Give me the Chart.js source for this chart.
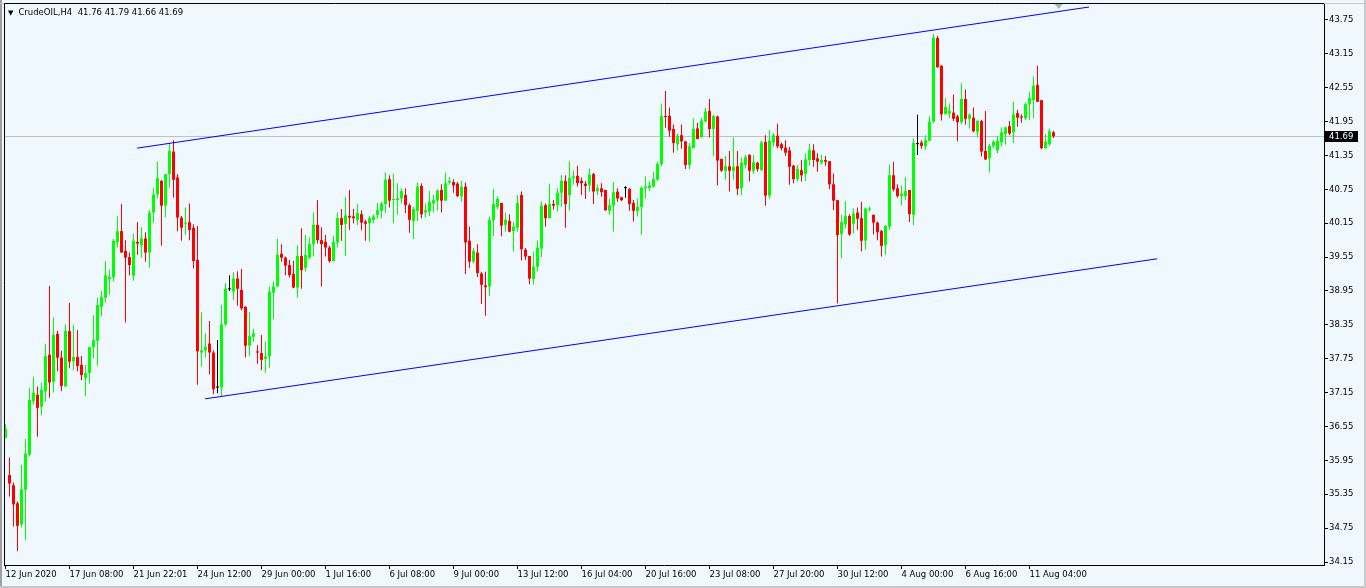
<!DOCTYPE html>
<html>
<head>
<meta charset="utf-8">
<script src="https://cdn.jsdelivr.net/npm/chart.js@4.4.1/dist/chart.umd.min.js"></script>
<style>
  html, body { margin: 0; padding: 0; background: #F0F8FF; overflow: hidden; }
  #wrap { position: relative; width: 1366px; height: 588px; }
  #hdr { position: absolute; left: 8px; top: 7px; font: 8.5px 'DejaVu Sans'; color: #000; white-space: pre; line-height: 10px; }
  #hdr .tri { font-size: 7px; margin-right: 5px; }
</style>
</head>
<body>
<div id="wrap">
  <canvas id="c" width="1366" height="588"></canvas>
  <div id="hdr"><span class="tri">▼</span>CrudeOIL,H4  41.76 41.79 41.66 41.69</div>
</div>
<script>
// H4 candles, CrudeOIL, 12 Jun - 11 Aug 2020
const open = [
  36.35, 35.69, 35.51, 35.19, 34.82, 35.43, 36.05, 37.00, 37.11, 36.90,
  37.17, 37.82, 37.34, 38.19, 37.77, 37.26, 38.24, 37.71, 37.78, 37.64,
  37.41, 37.50, 37.96, 38.07, 38.67, 38.83, 39.16, 39.19, 39.81, 40.01,
  39.66, 39.55, 39.22, 39.82, 39.76, 39.88, 39.63, 40.34, 40.66, 40.90,
  40.46, 41.02, 41.42, 40.96, 40.25, 40.14, 40.17, 40.07, 39.50, 37.86,
  37.90, 38.02, 37.86, 37.24, 37.24, 38.36, 38.98, 38.94, 39.17, 38.97,
  38.67, 37.98, 38.14, 37.88, 37.85, 37.75, 37.79, 38.92, 39.03, 39.61,
  39.54, 39.41, 39.25, 39.01, 39.57, 39.36, 39.54, 39.78, 40.12, 39.85,
  39.82, 39.72, 39.48, 39.81, 40.24, 40.14, 40.28, 40.27, 40.21, 40.31,
  40.18, 40.15, 40.21, 40.30, 40.37, 40.49, 40.93, 40.56, 40.56, 40.59,
  40.65, 40.47, 40.19, 40.37, 40.81, 40.34, 40.36, 40.50, 40.55, 40.74,
  40.55, 40.87, 40.88, 40.85, 40.63, 40.80, 39.84, 39.47, 39.63, 39.26,
  39.05, 39.03, 40.20, 40.44, 40.51, 40.12, 40.19, 40.01, 40.07, 40.65,
  39.68, 39.57, 39.16, 39.38, 39.70, 40.47, 40.24, 40.49, 40.47, 40.69,
  40.90, 40.65, 40.95, 40.99, 40.90, 40.85, 40.83, 41.02, 40.72, 40.77,
  40.74, 40.37, 40.46, 40.71, 40.61, 40.77, 40.76, 40.51, 40.37, 40.44,
  40.77, 40.77, 40.80, 40.92, 41.20, 42.05, 42.05, 41.82, 41.55, 41.71,
  41.60, 41.18, 41.48, 41.83, 41.67, 41.95, 42.14, 41.82, 42.04, 41.29,
  41.08, 41.16, 41.08, 41.16, 40.77, 41.18, 41.36, 41.08, 41.22, 41.09,
  41.59, 40.64, 41.58, 41.70, 41.55, 41.49, 41.44, 41.17, 40.93, 41.09,
  41.02, 41.27, 41.44, 41.30, 41.22, 41.27, 41.25, 40.84, 40.56, 39.96,
  40.13, 40.28, 40.14, 40.34, 40.24, 39.84, 40.39, 40.30, 40.16, 40.01,
  39.76, 40.09, 41.00, 40.77, 40.63, 40.63, 40.74, 40.30, 41.55, 41.58,
  41.51, 41.61, 41.95, 43.43, 42.94, 42.08, 42.09, 42.11, 42.04, 41.94,
  42.35, 42.00, 42.02, 41.77, 41.96, 41.43, 41.30, 41.52, 41.44, 41.58,
  41.73, 41.87, 41.76, 42.10, 42.04, 42.01, 42.26, 42.33, 42.60, 42.33,
  41.48, 41.55, 41.76
];
const high = [
  36.59, 36.00, 35.56, 35.22, 35.87, 36.33, 37.23, 37.43, 37.26, 37.33,
  38.01, 39.04, 38.48, 38.24, 37.89, 38.36, 38.74, 38.35, 38.26, 37.80,
  37.64, 37.96, 38.52, 38.83, 38.95, 39.48, 39.33, 39.87, 40.28, 40.49,
  39.85, 39.63, 39.97, 40.17, 40.08, 39.99, 40.38, 40.78, 41.24, 40.92,
  41.02, 41.57, 41.62, 41.02, 40.28, 40.43, 40.50, 40.13, 40.10, 38.58,
  38.20, 38.42, 37.90, 38.08, 38.70, 39.09, 39.23, 39.28, 39.30, 39.34,
  38.68, 38.58, 38.28, 37.99, 38.17, 38.06, 39.03, 39.12, 39.87, 39.78,
  39.56, 39.50, 39.48, 39.76, 40.06, 39.94, 39.90, 40.34, 40.56, 40.08,
  39.94, 39.75, 39.93, 40.34, 40.40, 40.62, 40.74, 40.40, 40.49, 40.38,
  40.21, 40.28, 40.31, 40.51, 40.53, 41.05, 41.00, 41.03, 40.86, 40.77,
  40.77, 40.50, 40.44, 40.87, 40.86, 40.50, 40.72, 40.65, 40.75, 40.84,
  41.05, 40.97, 40.93, 40.88, 40.90, 40.87, 40.09, 39.71, 39.78, 39.29,
  39.29, 40.27, 40.76, 40.63, 40.51, 40.34, 40.31, 40.18, 40.65, 40.71,
  39.71, 39.57, 39.65, 39.85, 40.54, 40.50, 40.85, 40.56, 40.77, 41.00,
  41.00, 41.25, 41.09, 41.17, 40.96, 40.90, 41.12, 41.04, 40.83, 40.86,
  40.74, 40.59, 40.88, 40.77, 40.62, 40.81, 40.77, 40.56, 40.59, 40.80,
  40.98, 40.89, 41.06, 41.24, 42.27, 42.49, 42.20, 41.90, 41.74, 41.90,
  41.60, 41.57, 42.01, 41.93, 42.02, 42.19, 42.35, 42.07, 42.06, 41.29,
  41.34, 41.43, 41.67, 41.43, 41.31, 41.36, 41.37, 41.36, 41.24, 41.61,
  41.71, 41.80, 41.75, 41.91, 41.58, 41.62, 41.50, 41.18, 41.18, 41.27,
  41.39, 41.56, 41.55, 41.39, 41.36, 41.34, 41.25, 41.03, 40.56, 40.30,
  40.54, 40.31, 40.41, 40.43, 40.53, 40.43, 40.45, 40.30, 40.18, 40.03,
  40.12, 41.19, 41.24, 40.84, 40.82, 40.97, 40.74, 41.65, 42.07, 41.62,
  41.71, 42.04, 43.50, 43.47, 42.95, 42.37, 42.27, 42.43, 42.07, 42.63,
  42.52, 42.10, 42.20, 41.98, 41.98, 42.14, 41.56, 41.62, 41.70, 41.85,
  41.86, 41.96, 42.30, 42.16, 42.08, 42.29, 42.48, 42.75, 42.94, 42.33,
  41.73, 41.83, 41.79
];
const low = [
  36.34, 35.31, 34.78, 34.34, 34.76, 34.54, 36.02, 36.94, 36.37, 36.75,
  36.99, 37.06, 37.15, 37.53, 37.18, 37.26, 37.58, 37.55, 37.53, 37.37,
  37.09, 37.31, 37.76, 37.63, 38.50, 38.74, 38.89, 39.12, 39.72, 39.63,
  38.39, 39.23, 39.13, 39.59, 39.54, 39.47, 39.36, 40.16, 40.59, 39.75,
  40.25, 40.78, 40.60, 40.01, 39.84, 39.94, 39.85, 39.35, 37.29, 37.61,
  37.77, 37.47, 37.12, 37.14, 37.08, 38.32, 38.95, 38.79, 38.69, 38.61,
  37.77, 37.80, 38.05, 37.66, 37.55, 37.50, 37.59, 38.45, 39.03, 39.47,
  39.23, 39.19, 39.00, 38.83, 38.99, 39.29, 39.51, 39.56, 39.79, 39.03,
  39.56, 39.45, 39.48, 39.72, 39.84, 39.57, 40.03, 40.15, 40.12, 40.03,
  39.84, 39.82, 40.15, 40.23, 40.24, 40.33, 40.43, 40.15, 40.30, 40.50,
  40.33, 39.98, 39.87, 40.19, 40.24, 40.25, 40.28, 40.34, 40.37, 40.34,
  40.55, 40.83, 40.69, 40.61, 40.53, 39.25, 39.36, 39.44, 39.20, 38.72,
  38.51, 38.86, 39.92, 40.40, 39.92, 40.00, 39.99, 39.65, 40.00, 39.49,
  39.50, 39.07, 39.06, 39.30, 39.55, 40.09, 40.24, 40.39, 40.36, 40.44,
  40.07, 40.37, 40.83, 40.80, 40.65, 40.58, 40.71, 40.49, 40.65, 40.62,
  40.37, 40.30, 40.00, 40.53, 40.54, 40.60, 40.37, 40.18, 40.27, 39.94,
  40.59, 40.72, 40.78, 40.90, 41.16, 41.84, 41.68, 41.40, 41.44, 41.47,
  41.11, 41.11, 41.48, 41.64, 41.67, 41.94, 41.67, 41.34, 40.82, 41.06,
  40.92, 40.71, 40.92, 40.65, 40.65, 41.12, 40.89, 41.02, 41.06, 41.08,
  40.46, 40.59, 41.51, 41.48, 41.44, 41.34, 40.83, 40.86, 40.89, 40.89,
  40.90, 41.17, 41.15, 41.06, 41.19, 41.17, 40.75, 40.38, 38.73, 39.53,
  40.06, 39.93, 39.97, 40.03, 39.65, 39.68, 40.36, 39.95, 39.85, 39.56,
  39.59, 40.03, 40.71, 40.60, 40.47, 40.56, 40.17, 40.12, 41.36, 41.47,
  41.45, 41.60, 41.92, 42.91, 41.97, 42.08, 42.01, 41.96, 41.60, 41.90,
  41.90, 41.83, 41.76, 41.67, 41.33, 41.27, 41.05, 41.48, 41.39, 41.51,
  41.54, 41.71, 41.57, 41.86, 41.93, 41.98, 41.98, 42.01, 42.30, 41.46,
  41.47, 41.52, 41.66
];
const close = [
  36.51, 35.54, 35.17, 34.79, 35.44, 36.07, 37.02, 37.15, 36.88, 37.20,
  37.80, 37.33, 38.17, 37.77, 37.27, 38.24, 37.70, 37.78, 37.62, 37.46,
  37.50, 37.96, 38.08, 38.70, 38.84, 39.23, 39.20, 39.84, 40.01, 39.63,
  39.54, 39.41, 39.84, 39.79, 39.88, 39.63, 40.34, 40.66, 40.95, 40.46,
  41.02, 41.43, 40.92, 40.25, 40.07, 40.16, 40.03, 39.48, 37.88, 37.90,
  37.96, 37.86, 37.21, 37.24, 38.36, 38.99, 38.98, 39.17, 38.99, 38.64,
  37.98, 38.15, 38.20, 37.86, 37.73, 37.79, 38.94, 39.03, 39.59, 39.54,
  39.40, 39.23, 39.01, 39.57, 39.32, 39.59, 39.78, 40.12, 39.85, 39.78,
  39.72, 39.48, 39.82, 40.24, 40.12, 40.29, 40.25, 40.24, 40.33, 40.16,
  40.14, 40.24, 40.27, 40.38, 40.50, 40.92, 40.55, 40.58, 40.59, 40.72,
  40.47, 40.21, 40.40, 40.80, 40.31, 40.38, 40.53, 40.56, 40.73, 40.55,
  40.86, 40.90, 40.82, 40.63, 40.80, 39.81, 39.47, 39.66, 39.27, 39.06,
  39.02, 40.21, 40.49, 40.58, 40.11, 40.21, 40.00, 40.09, 40.51, 39.69,
  39.56, 39.17, 39.38, 39.72, 40.46, 40.24, 40.49, 40.46, 40.69, 40.90,
  40.49, 40.95, 40.98, 40.86, 40.86, 40.81, 41.01, 40.71, 40.77, 40.70,
  40.38, 40.47, 40.70, 40.59, 40.56, 40.77, 40.49, 40.37, 40.44, 40.78,
  40.80, 40.82, 40.93, 41.20, 42.05, 42.03, 41.79, 41.57, 41.70, 41.60,
  41.18, 41.51, 41.82, 41.64, 41.97, 42.13, 41.82, 42.05, 41.26, 41.08,
  41.16, 41.08, 41.15, 40.76, 41.22, 41.32, 41.08, 41.23, 41.11, 41.58,
  40.64, 41.61, 41.71, 41.51, 41.48, 41.40, 41.15, 40.93, 41.11, 41.00,
  41.28, 41.45, 41.27, 41.24, 41.27, 41.24, 40.84, 40.55, 39.94, 40.17,
  40.28, 39.95, 40.32, 40.23, 39.84, 40.41, 40.41, 40.16, 39.99, 39.75,
  40.10, 41.00, 40.75, 40.63, 40.67, 40.72, 40.31, 41.57, 41.55, 41.52,
  41.62, 41.95, 43.44, 42.91, 42.08, 42.21, 42.14, 42.00, 41.94, 42.35,
  42.00, 42.07, 41.78, 41.96, 41.42, 41.28, 41.52, 41.59, 41.61, 41.76,
  41.85, 41.74, 42.08, 42.02, 42.02, 42.26, 42.37, 42.58, 42.30, 41.48,
  41.60, 41.78, 41.69
];

// time labels, one every 16 bars
const timeLabels = [
  '12 Jun 2020', '17 Jun 08:00', '21 Jun 22:01', '24 Jun 12:00', '29 Jun 00:00',
  '1 Jul 16:00', '6 Jul 08:00', '9 Jul 00:00', '13 Jul 12:00', '16 Jul 04:00',
  '20 Jul 16:00', '23 Jul 08:00', '27 Jul 20:00', '30 Jul 12:00', '4 Aug 00:00',
  '6 Aug 16:00', '11 Aug 04:00'
];
const labelStep = 16;
const priceTicks = [34.15, 34.75, 35.35, 35.95, 36.55, 37.15, 37.75, 38.35, 38.95,
  39.55, 40.15, 40.75, 41.35, 41.95, 42.55, 43.15, 43.75];

// channel lines: [bar index, price]
const channelTop = [[32.9, 41.48], [270.9, 43.98]];
const channelBottom = [[49.9, 37.04], [287.9, 39.52]];

const UP = '#00FF00', DOWN = '#FF0000', DOJI = '#000000';
const BG = '#F0F8FF';
const FONT = { family: 'DejaVu Sans', size: 8.5 };

const idx = open.map((_, i) => i);
const colors = idx.map(i => close[i] > open[i] ? UP : (close[i] < open[i] ? DOWN : DOJI));
const lastClose = close[close.length - 1];

const mt4Frame = {
  id: 'mt4Frame',
  beforeDraw(chart) {
    const { ctx, width, height } = chart;
    ctx.save();
    ctx.fillStyle = BG;
    ctx.fillRect(0, 0, width, height);
    ctx.fillStyle = '#A0A0A0';
    ctx.fillRect(0, 0, 2, height);
    ctx.fillStyle = '#C8C8C8';
    ctx.fillRect(0, 3, width, 1);
    ctx.fillRect(width - 2, 0, 2, height);
    ctx.fillRect(0, height - 2, width, 2);
    ctx.restore();
  },
  beforeDatasetsDraw(chart) {
    const { ctx, chartArea } = chart;
    const y = Math.round(chart.scales.y.getPixelForValue(lastClose)) + 0.5;
    ctx.save();
    ctx.strokeStyle = '#C0C0C0';
    ctx.lineWidth = 1;
    ctx.beginPath();
    ctx.moveTo(chartArea.left, y);
    ctx.lineTo(chartArea.right, y);
    ctx.stroke();
    ctx.restore();
  },
  afterDraw(chart) {
    const { ctx, chartArea } = chart;
    ctx.save();
    ctx.strokeStyle = '#000';
    ctx.lineWidth = 1;
    ctx.beginPath();
    ctx.moveTo(chartArea.left + 0.5, chartArea.bottom);
    ctx.lineTo(chartArea.left + 0.5, chartArea.top - 0.5);
    ctx.lineTo(chartArea.right, chartArea.top - 0.5);
    ctx.stroke();

    // shift marker
    const sx = chart.scales.x.getPixelForValue(close.length + 0.3);
    ctx.fillStyle = '#B0B0B0';
    ctx.beginPath();
    ctx.moveTo(sx - 4, chartArea.top);
    ctx.lineTo(sx + 4, chartArea.top);
    ctx.lineTo(sx, chartArea.top + 5);
    ctx.closePath();
    ctx.fill();

    // bid price label
    const y = Math.round(chart.scales.y.getPixelForValue(lastClose));
    ctx.fillStyle = '#000';
    ctx.fillRect(chartArea.right + 1, y - 5, 33, 11);
    ctx.fillStyle = '#FFF';
    ctx.font = "8.5px 'DejaVu Sans'";
    ctx.textBaseline = 'middle';
    ctx.textAlign = 'left';
    ctx.fillText(lastClose.toFixed(2), chartArea.right + 5, y + 0.5);
    ctx.restore();
  }
};

new Chart(document.getElementById('c'), {
  type: 'bar',
  data: {
    datasets: [
      {
        type: 'line', data: channelTop.map(p => ({ x: p[0], y: p[1] })),
        borderColor: '#0000FF', borderWidth: 1, pointRadius: 0, fill: false, order: 0
      },
      {
        type: 'line', data: channelBottom.map(p => ({ x: p[0], y: p[1] })),
        borderColor: '#0000FF', borderWidth: 1, pointRadius: 0, fill: false, order: 0
      },
      {
        data: idx.map(i => ({ x: i, y: [open[i], close[i]] })),
        backgroundColor: colors, borderWidth: 0, grouped: false,
        barThickness: 3, maxBarThickness: 3, minBarLength: 1, inflateAmount: 0, order: 1
      },
      {
        data: idx.map(i => ({ x: i, y: [low[i], high[i]] })),
        backgroundColor: colors, borderWidth: 0, grouped: false,
        barThickness: 1, maxBarThickness: 1, inflateAmount: 0, order: 2
      }
    ]
  },
  options: {
    responsive: false,
    animation: false,
    devicePixelRatio: 1,
    layout: { padding: { left: 4, top: 4, right: 0, bottom: 0 } },
    plugins: { legend: { display: false }, tooltip: { enabled: false } },
    scales: {
      x: {
        type: 'linear', min: -0.375, max: 329.625, offset: false,
        grid: { drawOnChartArea: false, offset: false, tickLength: 4, color: '#000' },
        border: { color: '#000' },
        afterBuildTicks: s => { s.ticks = timeLabels.map((_, k) => ({ value: k * labelStep })); },
        afterFit: s => { s.height = 23; s.paddingLeft = 0; s.paddingRight = 0; },
        ticks: {
          align: 'start', autoSkip: false, maxRotation: 0, padding: 1,
          color: '#000', font: FONT,
          callback: (v, k) => timeLabels[k]
        }
      },
      y: {
        position: 'right', min: 34.097, max: 44.033,
        grid: { drawOnChartArea: false, tickLength: 4, color: '#000' },
        border: { color: '#000' },
        afterBuildTicks: s => { s.ticks = priceTicks.map(v => ({ value: v })); },
        afterFit: s => { s.width = 42; s.paddingTop = 0; s.paddingBottom = 0; },
        ticks: {
          padding: 1, color: '#000', font: FONT,
          callback: v => v.toFixed(2)
        }
      }
    }
  },
  plugins: [mt4Frame]
});
</script>
</body>
</html>
